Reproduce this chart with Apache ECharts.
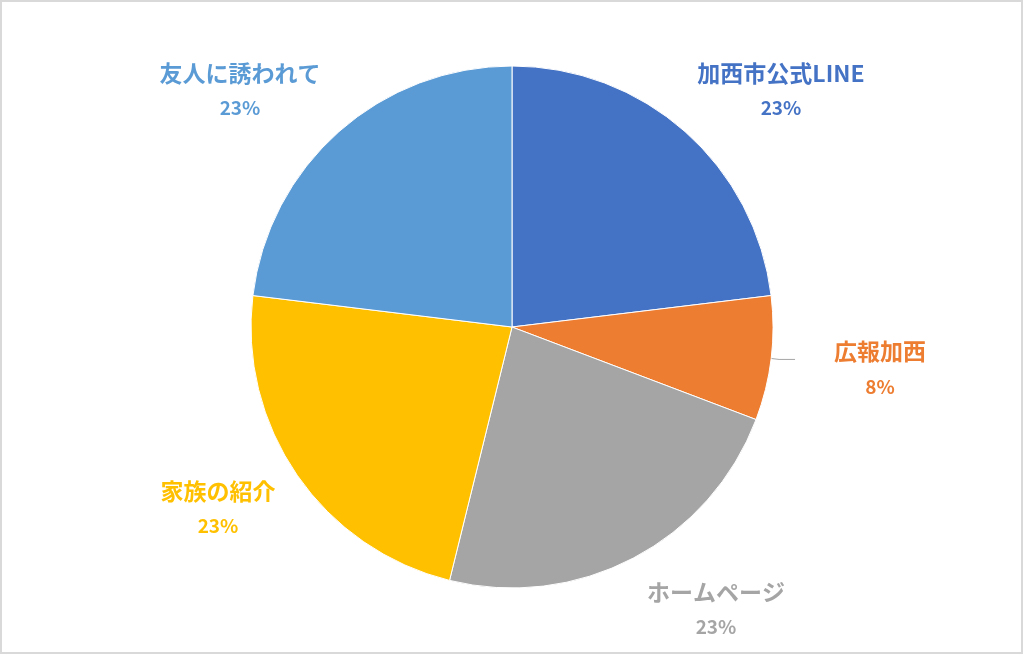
<!DOCTYPE html>
<html><head><meta charset="utf-8">
<script src="https://cdn.jsdelivr.net/npm/echarts@6/dist/echarts.min.js"></script>
<style>html,body{margin:0;padding:0;background:#fff}#c{width:1024px;height:655px}</style>
</head><body><div id="c"></div>
<script>
const categories = ['加西市公式LINE', '広報加西', 'ホームページ', '家族の紹介', '友人に誘われて'];
const values = [3, 1, 3, 3, 3];
const colors = ['#4472C4', '#ED7D31', '#A5A5A5', '#FFC000', '#5B9BD5'];
// label block centres (layout only)
const labelPos = [[781, 90], null, [716, 609], [218, 508], [240, 90]];

const chart = echarts.init(document.getElementById('c'), null, {renderer: 'canvas'});
const font = '"Noto Sans CJK JP", "Noto Sans", sans-serif';
chart.setOption({
  animation: false,
  backgroundColor: '#fff',
  graphic: [{type: 'rect', shape: {x: 1, y: 1, width: 1021, height: 652}, style: {fill: null, stroke: '#d9d9d9', lineWidth: 2}, silent: true}],
  series: [{
    type: 'pie',
    center: [512, 327],
    radius: 261,
    startAngle: 90,
    clockwise: true,
    percentPrecision: 0,
    avoidLabelOverlap: false,
    itemStyle: {borderColor: '#fff', borderWidth: 1},
    label: {
      show: true,
      position: 'outside',
      formatter: '{n|{b}}\n{p|{d}%}',
      distanceToLabelLine: 39,
      rich: {
        n: {fontFamily: font, fontWeight: 'bold', fontSize: 23, lineHeight: 36, align: 'center'},
        p: {fontFamily: font, fontWeight: 'bold', fontSize: 19, lineHeight: 34, align: 'center'}
      }
    },
    labelLine: {show: true, length: 8, length2: 16, lineStyle: {color: '#a6a6a6', width: 1}},
    labelLayout: function (params) {
      const p = labelPos[params.dataIndex];
      if (!p) return {};
      return {x: p[0], y: p[1], align: 'center', verticalAlign: 'middle'};
    },
    data: categories.map((c, i) => ({
      name: c,
      value: values[i],
      itemStyle: {color: colors[i]},
      label: labelPos[i] === null ? {color: colors[i], padding: [18, 0, 0, 0]} : {color: colors[i]},
      labelLine: {show: labelPos[i] === null}
    }))
  }]
});
</script></body></html>
